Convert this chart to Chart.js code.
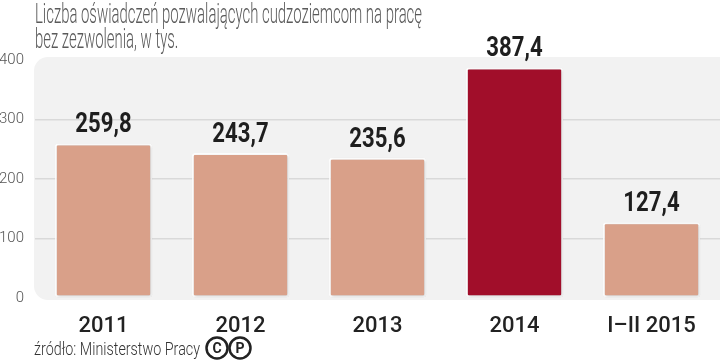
<!DOCTYPE html>
<html>
<head>
<meta charset="utf-8">
<script src="https://cdn.jsdelivr.net/npm/chart.js@4"></script>
<style>
  html, body { margin: 0; padding: 0; background: #fff; }
  #wrap { width: 720px; height: 360px; }
</style>
</head>
<body>
<div id="wrap"><canvas id="chart" width="720" height="360"></canvas></div>
<script>
const categories = ['2011', '2012', '2013', '2014', 'I–II 2015'];
const values = [259.8, 243.7, 235.6, 387.4, 127.4];
const highlighted = '2014';
const yTicks = [0, 100, 200, 300, 400];
const titleLines = ['Liczba oświadczeń pozwalających cudzoziemcom na pracę', 'bez zezwolenia, w tys.'];
const sourceText = 'źródło: Ministerstwo Pracy';

const BAR = '#d9a089';
const BAR_HI = '#a10e2a';
const PANEL = '#f2f2f2';

function fmt(v) {
  return v.toFixed(1).replace('.', ',');
}

// narrow text: draw with a horizontal squeeze so it fits a target width
function squeezed(ctx, text, x, y, scaleX, align) {
  ctx.save();
  ctx.translate(x, y);
  ctx.scale(scaleX, 1);
  ctx.textAlign = align || 'left';
  ctx.fillText(text, 0, 0);
  ctx.restore();
}

const panel = {
  id: 'panel',
  beforeDraw(chart) {
    const { ctx, chartArea: a } = chart;
    ctx.save();
    ctx.fillStyle = PANEL;
    ctx.beginPath();
    ctx.roundRect(a.left - 1, a.top - 3, a.right - a.left + 14, a.bottom - a.top + 5, 14);
    ctx.fill();
    ctx.restore();
  }
};

const shadow = {
  id: 'shadow',
  beforeDatasetsDraw(chart) {
    const ctx = chart.ctx;
    ctx.save();
    ctx.shadowColor = 'rgba(0,0,0,0.18)';
    ctx.shadowBlur = 3;
    ctx.shadowOffsetX = 1;
    ctx.shadowOffsetY = 1;
  },
  afterDatasetsDraw(chart) {
    chart.ctx.restore();
  }
};

const labels = {
  id: 'labels',
  afterDraw(chart) {
    const ctx = chart.ctx;
    const meta = chart.getDatasetMeta(0);

    // value labels
    ctx.save();
    ctx.fillStyle = '#1e1e1e';
    ctx.font = 'bold 27px Roboto, "DejaVu Sans", sans-serif';
    ctx.textBaseline = 'alphabetic';
    meta.data.forEach((bar, i) => {
      squeezed(ctx, fmt(values[i]), bar.x, bar.y - 11, 0.82, 'center');
    });
    ctx.restore();

    // title
    ctx.save();
    ctx.fillStyle = '#5a5a5a';
    ctx.font = '300 27px Roboto, "DejaVu Sans", sans-serif';
    ctx.textBaseline = 'alphabetic';
    const sx = 387 / ctx.measureText(titleLines[0]).width;
    squeezed(ctx, titleLines[0], 35, 23, sx);
    squeezed(ctx, titleLines[1], 35, 48, sx);
    ctx.restore();

    // source + cc marks
    ctx.save();
    ctx.fillStyle = '#333';
    ctx.font = '300 19px Roboto, "DejaVu Sans", sans-serif';
    ctx.textBaseline = 'alphabetic';
    const ssx = 166 / ctx.measureText(sourceText).width;
    squeezed(ctx, sourceText, 34, 355, ssx);
    const cx0 = 34 + 166 + 17;
    ['C', 'P'].forEach((ch, i) => {
      const cx = cx0 + i * 23;
      ctx.beginPath();
      ctx.arc(cx, 348, 10.5, 0, Math.PI * 2);
      ctx.lineWidth = 2.5;
      ctx.strokeStyle = '#222';
      ctx.stroke();
      ctx.fillStyle = '#222';
      ctx.font = 'bold 14px Roboto, sans-serif';
      ctx.textAlign = 'center';
      ctx.textBaseline = 'middle';
      ctx.fillText(ch, cx, 349);
    });
    ctx.restore();
  }
};

new Chart(document.getElementById('chart'), {
  type: 'bar',
  data: {
    labels: categories,
    datasets: [{
      data: values,
      backgroundColor: categories.map(c => c === highlighted ? BAR_HI : BAR),
      borderColor: 'rgba(255,255,255,0.9)',
      borderWidth: 2,
      borderRadius: 3,
      borderSkipped: false,
      barPercentage: 0.71,
      categoryPercentage: 1
    }]
  },
  options: {
    responsive: false,
    animation: false,
    layout: { padding: { top: 60, right: 0, bottom: 0, left: 0 } },
    plugins: {
      legend: { display: false },
      tooltip: { enabled: false },
      title: { display: false }
    },
    scales: {
      x: {
        afterFit(s) { s.height = 62; },
        grid: { display: false, drawTicks: false },
        border: { display: false },
        ticks: {
          padding: 15,
          color: '#222',
          font: { family: 'Roboto, "DejaVu Sans", sans-serif', size: 22, weight: '500' }
        }
      },
      y: {
        min: 0,
        max: 400,
        afterFit(s) { s.width = 35; },
        afterBuildTicks(s) { s.ticks = yTicks.map(v => ({ value: v })); },
        grid: {
          drawTicks: false,
          color: ctx => (ctx.tick && (ctx.tick.value === 0 || ctx.tick.value === 400)) ? 'rgba(0,0,0,0)' : '#d9d9d9',
          lineWidth: 1.5
        },
        border: { display: false },
        ticks: {
          padding: 11,
          color: '#555',
          font: { family: 'Roboto, "DejaVu Sans", sans-serif', size: 15, weight: '300' }
        }
      }
    }
  },
  plugins: [panel, shadow, labels]
});
</script>
</body>
</html>
